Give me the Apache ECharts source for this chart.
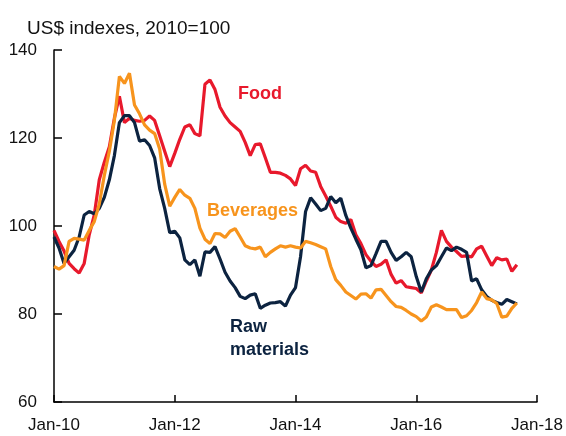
<!DOCTYPE html>
<html>
<head>
<meta charset="utf-8">
<script src="https://cdn.jsdelivr.net/npm/echarts@6/dist/echarts.min.js"></script>
<style>
html,body{margin:0;padding:0;background:#fff;}
#c{width:566px;height:436px;}
</style>
</head>
<body>
<div id="c"></div>
<script>
// Monthly index, Jan-2010 = 0 ... Sep-2017 = 92
const tickLabels = ['Jan-10', 'Jan-12', 'Jan-14', 'Jan-16', 'Jan-18'];
const tickMonths = [0, 24, 48, 72, 96];

const food = [
  99.0, 96.5, 94.3, 91.5, 90.3, 89.3, 91.5, 98.0, 102.5, 110.5, 114.5, 118.0,
  124.5, 129.5, 123.5, 124.5, 124.0, 123.8, 124.0, 125.0, 124.0, 120.5, 117.0, 113.5,
  116.5, 119.7, 122.5, 123.0, 121.0, 120.5, 132.2, 133.2, 131.0, 127.0, 125.0, 123.5,
  122.5, 121.5, 119.0, 116.0, 118.5, 118.7, 115.5, 112.2, 112.2, 112.0, 111.5, 110.7,
  109.2, 113.0, 113.8, 112.5, 112.2, 109.0, 106.8, 104.5, 102.0, 101.0, 100.6, 101.5,
  98.0, 96.0, 93.5, 92.0, 90.8, 91.3, 92.3, 89.0, 87.0, 87.6, 86.2, 86.0,
  85.8, 84.8, 87.5, 90.0, 94.0, 99.0, 96.5, 95.2, 94.2, 93.1, 93.2, 93.0,
  94.8, 95.4, 93.2, 91.0, 92.8, 92.3, 92.5, 89.7, 91.2
];

const beverages = [
  90.8, 90.2, 91.0, 96.5, 97.2, 97.0, 96.8, 99.0, 101.0, 105.0, 111.5, 117.0,
  124.0, 134.0, 132.4, 134.7, 127.5, 125.5, 123.0, 121.8, 121.0, 117.5, 109.5, 104.5,
  106.5, 108.3, 107.0, 106.3, 104.0, 99.5, 97.0, 96.0, 98.3, 98.2, 97.4, 98.8,
  99.4, 97.5, 95.5, 95.0, 94.8, 95.2, 93.0, 94.0, 94.8, 95.5, 95.2, 95.5,
  95.2, 95.0, 96.5, 96.2, 95.8, 95.3, 94.8, 90.8, 87.8, 86.5, 85.0, 84.2,
  83.4, 84.5, 84.6, 83.6, 85.5, 85.6, 84.2, 82.8, 81.7, 81.5, 80.8, 80.0,
  79.4, 78.4, 79.3, 81.6, 82.1, 81.6, 81.0, 81.0, 81.0, 79.2, 79.6, 80.8,
  82.6, 85.0, 83.5, 83.2, 82.4, 79.3, 79.5, 81.3, 82.5
];

const rawMaterials = [
  97.5, 95.0, 91.5, 93.0, 94.5, 97.5, 102.5, 103.3, 102.8, 104.0, 106.5, 110.5,
  116.0, 123.5, 125.1, 125.1, 123.5, 119.3, 119.6, 118.3, 115.5, 108.5, 104.0, 98.5,
  98.8, 97.3, 92.3, 91.2, 92.3, 88.6, 94.1, 94.0, 95.3, 92.5, 89.5, 87.5,
  86.0, 84.0, 83.5, 84.3, 84.6, 81.3, 82.0, 82.5, 82.6, 82.8, 81.8, 84.3,
  86.0, 93.0, 103.3, 106.4, 105.0, 103.5, 104.0, 106.7, 105.3, 106.3, 102.4, 99.5,
  97.0, 94.6, 90.5, 91.0, 93.7, 96.5, 96.5, 94.0, 92.2, 93.0, 94.0, 93.0,
  88.5, 85.0, 88.0, 90.0, 91.0, 93.0, 95.0, 94.4, 95.2, 94.7, 94.0, 87.5,
  88.0, 85.5, 84.0, 83.1, 82.6, 82.2, 83.3, 82.8, 82.3
];

const FONT = 'Liberation Sans, Arial, sans-serif';
const RED = '#e8192c';
const ORANGE = '#f7941d';
const NAVY = '#0c2340';

function pairs(arr) { return arr.map((v, i) => [i, v]); }

const chart = echarts.init(document.getElementById('c'), null, { renderer: 'canvas' });
chart.setOption({
  animation: false,
  backgroundColor: '#fff',
  title: {
    text: 'US$ indexes, 2010=100',
    left: 22, top: 14,
    textStyle: { fontFamily: FONT, fontSize: 19, fontWeight: 'normal', color: '#111' }
  },
  grid: { left: 54, right: 27, top: 50, bottom: 34, containLabel: false },
  xAxis: {
    type: 'value', min: 0, max: 96, interval: 24,
    axisLine: { show: true, lineStyle: { color: '#000', width: 1.5 } },
    axisTick: { show: true, inside: true, length: 7, lineStyle: { color: '#000', width: 1.5 } },
    axisLabel: {
      margin: 15, fontFamily: FONT, fontSize: 17, color: '#111',
      formatter: v => { const k = tickMonths.indexOf(v); return k >= 0 ? tickLabels[k] : ''; }
    },
    splitLine: { show: false }
  },
  yAxis: {
    type: 'value', min: 60, max: 140, interval: 20,
    axisLine: { show: true, lineStyle: { color: '#000', width: 1.5 } },
    axisTick: { show: true, inside: true, length: 8, lineStyle: { color: '#000', width: 1.5 } },
    axisLabel: { margin: 17, fontFamily: FONT, fontSize: 17, color: '#111' },
    splitLine: { show: false }
  },
  series: [
    { name: 'Food', type: 'line', data: pairs(food), showSymbol: false,
      lineStyle: { color: RED, width: 3.2 }, itemStyle: { color: RED } },
    { name: 'Raw materials', type: 'line', data: pairs(rawMaterials), showSymbol: false,
      lineStyle: { color: NAVY, width: 3.2 }, itemStyle: { color: NAVY } },
    { name: 'Beverages', type: 'line', data: pairs(beverages), showSymbol: false,
      lineStyle: { color: ORANGE, width: 3.2 }, itemStyle: { color: ORANGE } }
  ],
  graphic: [
    { type: 'text', left: 238, top: 85,
      style: { text: 'Food', fill: RED, font: 'bold 18px ' + FONT } },
    { type: 'text', left: 207, top: 202,
      style: { text: 'Beverages', fill: ORANGE, font: 'bold 18px ' + FONT } },
    { type: 'text', left: 230, top: 316,
      style: { text: 'Raw\nmaterials', fill: NAVY, font: 'bold 18px ' + FONT, lineHeight: 23 } }
  ]
});
</script>
</body>
</html>
